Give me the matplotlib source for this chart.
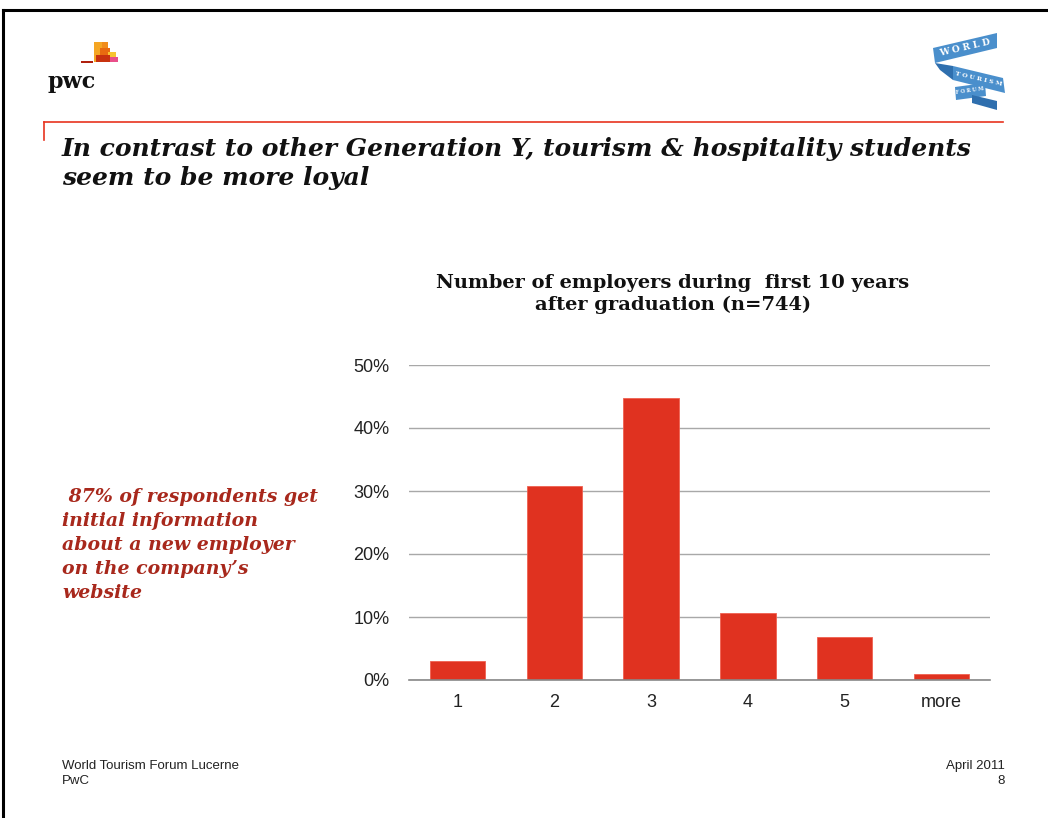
import matplotlib
matplotlib.use("Agg")
import matplotlib.pyplot as plt
from matplotlib.patches import Rectangle, Polygon
from matplotlib.lines import Line2D

categories = ["1", "2", "3", "4", "5", "more"]
shares = [3.0, 30.8, 44.8, 10.6, 6.8, 0.9]
y_ticks = [0, 10, 20, 30, 40, 50]
y_tick_labels = ["0%", "10%", "20%", "30%", "40%", "50%"]

headline_lines = ["In contrast to other Generation Y, tourism & hospitality students",
                  "seem to be more loyal"]
chart_title_lines = ["Number of employers during  first 10 years",
                     "after graduation (n=744)"]
side_note_lines = [" 87% of respondents get", "initial information",
                   "about a new employer", "on the company\u2019s", "website"]

W, H = 1048, 818
fig = plt.figure(figsize=(W / 100, H / 100), dpi=100)
fig.patch.set_facecolor("white")

def px(x, y):
    return x / W, 1 - y / H

# page frame (top and left edges)
fig.add_artist(Line2D([3 / W, 1.0], [1 - 10 / H] * 2, color="black", lw=2.2))
fig.add_artist(Line2D([3 / W] * 2, [1 - 10 / H, 0.0], color="black", lw=2.2))

# red header rule
fig.add_artist(Line2D([44 / W, 1003 / W], [1 - 122 / H] * 2, color="#e8331f", lw=1.2))
fig.add_artist(Line2D([44 / W] * 2, [1 - 122 / H, 1 - 140 / H], color="#e8331f", lw=1.2))

# logo layer in pixel coordinates
logo = fig.add_axes([0, 0, 1, 1], zorder=-1)
logo.set_xlim(0, W)
logo.set_ylim(H, 0)
logo.axis("off")

# pwc mark
for (x0, y0, w, h, c) in [
    (94, 42, 8, 20, "#f5a623"),
    (102, 42, 6, 20, "#f08c1a"),
    (100, 48, 10, 14, "#e86a10"),
    (108, 52, 8, 10, "#f7c531"),
    (96, 55, 14, 7, "#c8320f"),
    (110, 57, 8, 5, "#e94f8a"),
]:
    logo.add_patch(Rectangle((x0, y0), w, h, color=c, lw=0))
logo.add_patch(Rectangle((81, 61), 12, 2, color="#b0200e", lw=0))
logo.text(47, 88, "pwc", fontsize=16, fontweight="bold", family="DejaVu Serif",
          ha="left", va="baseline", color="#111111")

# World Tourism Forum ribbon
blue = "#4a8fcc"
dark = "#2f6fae"
logo.add_patch(Polygon([[933, 48], [997, 33], [997, 48], [935, 63]], color=blue, lw=0))
logo.add_patch(Polygon([[935, 63], [953, 66], [953, 80], [940, 70]], color=dark, lw=0))
logo.add_patch(Polygon([[953, 66], [1003, 78], [1005, 93], [953, 80]], color=blue, lw=0))
logo.add_patch(Polygon([[955, 87], [985, 83], [986, 96], [956, 100]], color=blue, lw=0))
logo.add_patch(Polygon([[972, 95], [997, 101], [997, 110], [972, 103]], color=dark, lw=0))
logo.text(965, 48, "W O R L D", fontsize=6.5, color="white", rotation=13,
          ha="center", va="center", family="DejaVu Serif", fontweight="bold")
logo.text(979, 79, "T O U R I S M", fontsize=4.5, color="white", rotation=-13,
          ha="center", va="center", family="DejaVu Serif", fontweight="bold")
logo.text(970, 91, "F O R U M", fontsize=3.5, color="white", rotation=8,
          ha="center", va="center", family="DejaVu Serif", fontweight="bold")

# headline
for i, line in enumerate(headline_lines):
    fig.text(*px(62, 156 + 29 * i), line, fontsize=18.0, fontweight="bold",
             fontstyle="italic", family="DejaVu Serif", ha="left", va="baseline",
             color="#111111")

# side note
for i, line in enumerate(side_note_lines):
    fig.text(*px(62, 502 + 24 * i), line, fontsize=13.6, fontweight="bold",
             fontstyle="italic", family="DejaVu Serif", ha="left", va="baseline",
             color="#a8281c")

# chart title
for i, line in enumerate(chart_title_lines):
    fig.text(*px(673, 288 + 22 * i), line, fontsize=14, fontweight="bold",
             family="DejaVu Serif", ha="center", va="baseline", color="#111111")

# bar chart
ax = fig.add_axes([409 / W, 138 / H, 581 / W, 315 / H])
x = list(range(len(categories)))
ax.bar(x, shares, width=0.57, color="#e03220", edgecolor="#f06050", linewidth=0.6,
       zorder=3)
ax.set_xlim(-0.5, len(categories) - 0.5)
ax.set_ylim(0, 50)
ax.set_yticks(y_ticks)
ax.set_yticklabels(y_tick_labels)
ax.set_xticks(x)
ax.set_xticklabels(categories)
ax.yaxis.grid(True, color="#a8a8a8", lw=1.0, zorder=0)
ax.set_axisbelow(True)
for s in ["top", "right", "left"]:
    ax.spines[s].set_visible(False)
ax.spines["bottom"].set_color("#888888")
ax.spines["bottom"].set_linewidth(1.2)
ax.spines["bottom"].set_zorder(4)
ax.tick_params(length=0, labelsize=13, colors="#222222")
ax.tick_params(axis="y", pad=14)
ax.tick_params(axis="x", pad=10)
for lab in ax.get_xticklabels() + ax.get_yticklabels():
    lab.set_family("Liberation Sans")

# footer
foot = dict(fontsize=9.5, family="Liberation Sans", va="baseline", color="#222222")
fig.text(*px(62, 769), "World Tourism Forum Lucerne", ha="left", **foot)
fig.text(*px(62, 784), "PwC", ha="left", **foot)
fig.text(*px(1005, 769), "April 2011", ha="right", **foot)
fig.text(*px(1005, 784), "8", ha="right", **foot)

fig.savefig("out.png", dpi=100, facecolor="white")
